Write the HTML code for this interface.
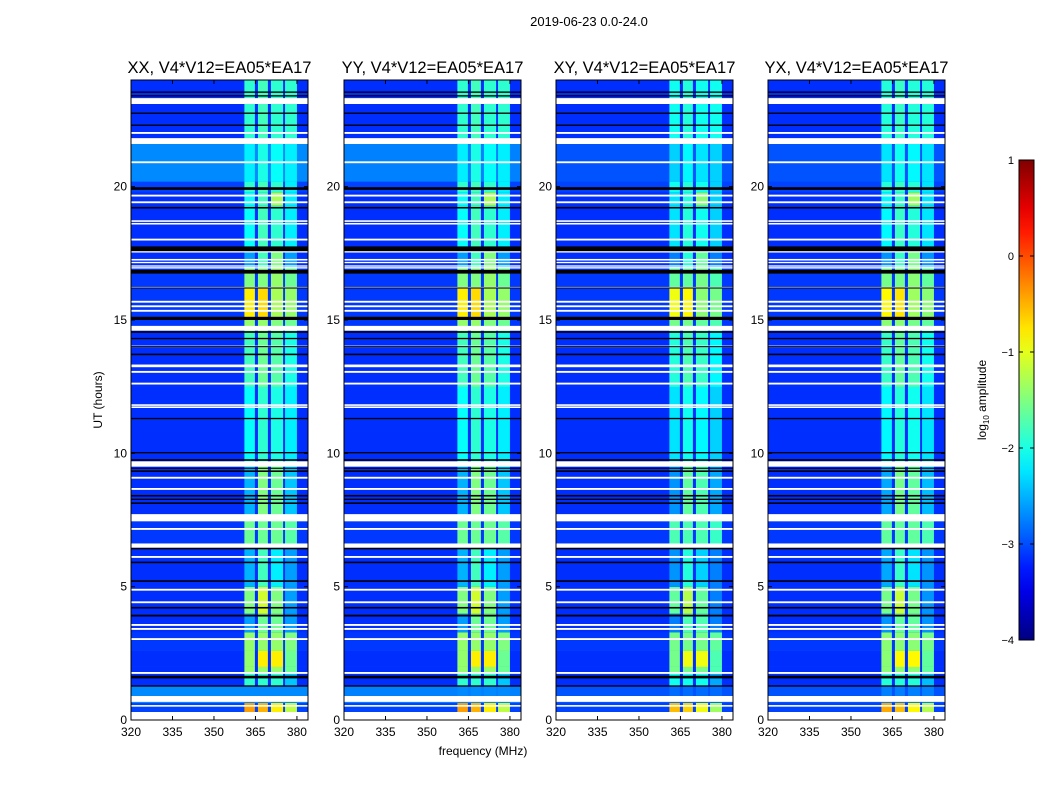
<!DOCTYPE html>
<html><head><meta charset="utf-8"><style>
body{margin:0;background:#fff;}
svg text{font-family:"Liberation Sans",sans-serif;fill:#000;}
</style></head><body>
<svg id="fig" width="1050" height="800" xmlns="http://www.w3.org/2000/svg">
<rect width="1050" height="800" fill="#fff"/>
<text x="589" y="26" font-size="13" text-anchor="middle">2019-06-23 0.0-24.0</text>
<text x="483" y="755" font-size="12" text-anchor="middle">frequency (MHz)</text>
<text transform="translate(102,400) rotate(-90)" font-size="12" text-anchor="middle">UT (hours)</text>
<g id="panels"></g>
<g id="cbar"></g>
</svg>
<script>
// ---- data ----
const panelTitles = ["XX, V4*V12=EA05*EA17","YY, V4*V12=EA05*EA17","XY, V4*V12=EA05*EA17","YX, V4*V12=EA05*EA17"];
const panelBandShift = [0, 0, -0.15, -0.05];
const panelCyanBoost = [1, 0.9, 0, 0.3];
const xTicks = [320,335,350,365,380];
const yTicks = [0,5,10,15,20];
const cbarTicks = [1,0,-1,-2,-3,-4];
const bandLo = [361, 365.9, 370.6, 375.7];
const bandHi = [364.8, 369.5, 375, 380];
// segments: start hour, end hour, background log amp, 4 band log amps
const segStart = [0,0.3,0.65,1.3,1.8,2.0,2.6,3.3,4.0,5.0,6.5,7.5,9.6,12.5,14.6,15.1,16.2,17.0,17.6,19.3,19.8,20.2,21.7];
const segEnd   = [0.3,0.65,1.3,1.8,2.0,2.6,3.3,4.0,5.0,6.5,7.5,9.6,12.5,14.6,15.1,16.2,17.0,17.6,19.3,19.8,20.2,21.7,24];
const segBg    = [-3.15,-3.05,-2.7,-3.15,-3.15,-3.15,-3.1,-3.15,-3.15,-3.15,-3.1,-3.15,-3.15,-3.15,-3.1,-3.1,-3.1,-3.15,-3.15,-3.15,-3.05,-2.7,-3.15];
const segB1    = [-2.6,-0.4,-2.7,-1.9,-1.4,-1.4,-1.4,-2.6,-1.5,-2.5,-1.6,-2.5,-2.1,-1.8,-1.4,-0.8,-1.5,-2.6,-2.1,-2.1,-1.9,-2.2,-1.9];
const segB2    = [-2.6,-0.5,-2.7,-1.9,-1.4,-0.8,-1.4,-1.6,-1.1,-1.8,-1.6,-1.5,-1.9,-1.6,-1.4,-0.7,-1.5,-1.8,-1.8,-1.8,-1.8,-2.0,-1.8];
const segB3    = [-2.6,-0.8,-2.7,-1.9,-1.4,-0.8,-1.4,-1.6,-1.5,-2.2,-1.6,-1.6,-2.0,-1.7,-1.5,-1.3,-1.4,-1.5,-1.9,-1.3,-1.9,-2.1,-1.9];
const segB4    = [-2.8,-1.2,-2.7,-2.4,-1.6,-1.6,-1.5,-2.6,-2.6,-2.6,-1.7,-2.4,-2.2,-2.0,-1.6,-1.4,-1.6,-2.6,-2.2,-2.2,-2.2,-2.2,-1.9];
// flagged rows (hours)
const whiteStart = [0,0.5,0.68,1.73,3.0,3.38,3.53,4.38,4.85,6.08,6.45,7.13,7.45,8.63,9.05,9.5,11.7,11.78,12.58,13.02,13.23,13.98,14.6,15.31,15.48,15.65,16.18,16.93,17.0,17.13,17.23,17.53,17.98,18.58,18.68,19.38,19.63,20.88,21.6,21.98,23.1];
const whiteEnd   = [0.3,0.56,0.9,1.8,3.07,3.45,3.6,4.45,4.92,6.15,6.62,7.2,7.72,8.7,9.12,9.7,11.76,11.84,12.65,13.09,13.33,14.04,14.78,15.38,15.55,15.72,16.24,16.98,17.05,17.18,17.29,17.6,18.05,18.64,18.74,19.45,19.7,20.95,21.82,22.05,23.32];
const blackStart = [1.25,1.56,3.88,4.18,5.18,5.88,6.4,8.1,8.25,8.38,9.3,9.42,9.72,10.0,11.28,13.68,13.98,14.28,14.52,15.0,16.18,16.74,17.58,19.18,19.88,22.28,22.73,23.38,23.52];
const blackEnd   = [1.3,1.66,3.95,4.24,5.24,5.94,6.46,8.16,8.3,8.44,9.36,9.46,9.78,10.05,11.33,13.74,14.02,14.33,14.58,15.12,16.22,16.88,17.76,19.24,19.98,22.33,22.78,23.43,23.57];
// ---- layout ----
const panelX = [131,344,556,768];
const panelW = 177, pTop = 80, pBot = 720;
const fMin = 320, fMax = 384, tMin = 0, tMax = 24;
const NS = "http://www.w3.org/2000/svg";
function jet(v){
  const t = Math.max(0, Math.min(1, (v + 4) / 5));
  const c = x => Math.round(255 * Math.max(0, Math.min(1, x)));
  return `rgb(${c(1.5-Math.abs(4*t-3))},${c(1.5-Math.abs(4*t-2))},${c(1.5-Math.abs(4*t-1))})`;
}
function mk(parent, tag, attrs){
  const e = document.createElementNS(NS, tag);
  for (const k in attrs) e.setAttribute(k, attrs[k]);
  parent.appendChild(e); return e;
}
const root = document.getElementById('panels');
panelX.forEach((px, p) => {
  const xS = f => px + (f - fMin) / (fMax - fMin) * panelW;
  const yS = h => pBot - (h - tMin) / (tMax - tMin) * (pBot - pTop);
  const g = mk(root, 'g', {});
  
  
  const bands = [segB1, segB2, segB3, segB4];
  for (let i = 0; i < segStart.length; i++) {
    let bg = segBg[i];
    if (bg > -3.0) bg = -3.15 + (bg + 3.15) * (p === 0 || p === 1 ? panelCyanBoost[p] : Math.max(panelCyanBoost[p], 0.4));
    const y0 = yS(segEnd[i]), y1 = yS(segStart[i]);
    const r = mk(g, 'rect', {x: px, y: y0, width: panelW, height: y1 - y0 + 0.3, fill: jet(bg)});
    
    
    for (let b = 0; b < 4; b++) {
      const v = Math.max(bg, bands[b][i] + panelBandShift[p]);
      const br = mk(g, 'rect', {x: xS(bandLo[b]), y: y0, width: xS(bandHi[b]) - xS(bandLo[b]), height: y1 - y0 + 0.3, fill: jet(v)});
      
      
    }
  }
  whiteStart.forEach((s, i) => {
    const w = mk(g, 'rect', {x: px, y: yS(whiteEnd[i]), width: panelW, height: yS(s) - yS(whiteEnd[i]), fill: '#fff'});
    
    
  });
  blackStart.forEach((s, i) => {
    const k = mk(g, 'rect', {x: px, y: yS(blackEnd[i]), width: panelW, height: Math.max(1, yS(s) - yS(blackEnd[i])), fill: '#000'});
    
    
  });
  const fr = mk(g, 'rect', {x: px, y: pTop, width: panelW, height: pBot - pTop, fill: 'none', stroke: '#000', 'stroke-width': 1});
  
  
  const tt = mk(g, 'text', {x: px + panelW / 2, y: 73, 'font-size': 16.5, 'text-anchor': 'middle'});
  tt.textContent = panelTitles[p];
  
  
  xTicks.forEach(f => {
    const x = xS(f);
    mk(g, 'line', {x1: x, x2: x, y1: pBot, y2: pBot - 4, stroke: '#000'});
    mk(g, 'line', {x1: x, x2: x, y1: pTop, y2: pTop + 4, stroke: '#000'});
    const t = mk(g, 'text', {x: x, y: pBot + 16, 'font-size': 12, 'text-anchor': 'middle'});
    t.textContent = f;
    
    
  });
  yTicks.forEach(h => {
    const y = yS(h);
    mk(g, 'line', {x1: px, x2: px + 4, y1: y, y2: y, stroke: '#000'});
    mk(g, 'line', {x1: px + panelW, x2: px + panelW - 4, y1: y, y2: y, stroke: '#000'});
    const t = mk(g, 'text', {x: px - 4, y: y + 4, 'font-size': 12, 'text-anchor': 'end'});
    t.textContent = h;
    
    
  });
});
// colorbar
const cb = document.getElementById('cbar');
const cbX = 1019, cbW = 15, cbTop = 160, cbBot = 640;
const cS = v => cbBot - (v + 4) / 5 * (cbBot - cbTop);
const defs = mk(cb, 'defs', {});
const lg = mk(defs, 'linearGradient', {id: 'jetg', x1: 0, y1: 1, x2: 0, y2: 0});
for (let i = 0; i <= 20; i++) mk(lg, 'stop', {offset: i / 20, 'stop-color': jet(-4 + 5 * i / 20)});
mk(cb, 'rect', {x: cbX, y: cbTop, width: cbW, height: cbBot - cbTop, fill: 'url(#jetg)', stroke: '#000', 'stroke-width': 1});
cbarTicks.forEach(v => {
  const y = cS(v);
  mk(cb, 'line', {x1: cbX, x2: cbX + 4, y1: y, y2: y, stroke: '#000'});
  mk(cb, 'line', {x1: cbX + cbW, x2: cbX + cbW - 4, y1: y, y2: y, stroke: '#000'});
  const t = mk(cb, 'text', {x: cbX - 5, y: y + 4, 'font-size': 11, 'text-anchor': 'end'});
  t.textContent = v < 0 ? '\u2212' + (-v) : v;
  
  
});
const cl = mk(cb, 'text', {transform: 'translate(986,400) rotate(-90)', 'font-size': 12, 'text-anchor': 'middle'});
cl.innerHTML = 'log<tspan font-size="8" dy="3">10</tspan><tspan dy="-3"> amplitude</tspan>';


</script>
</body></html>
